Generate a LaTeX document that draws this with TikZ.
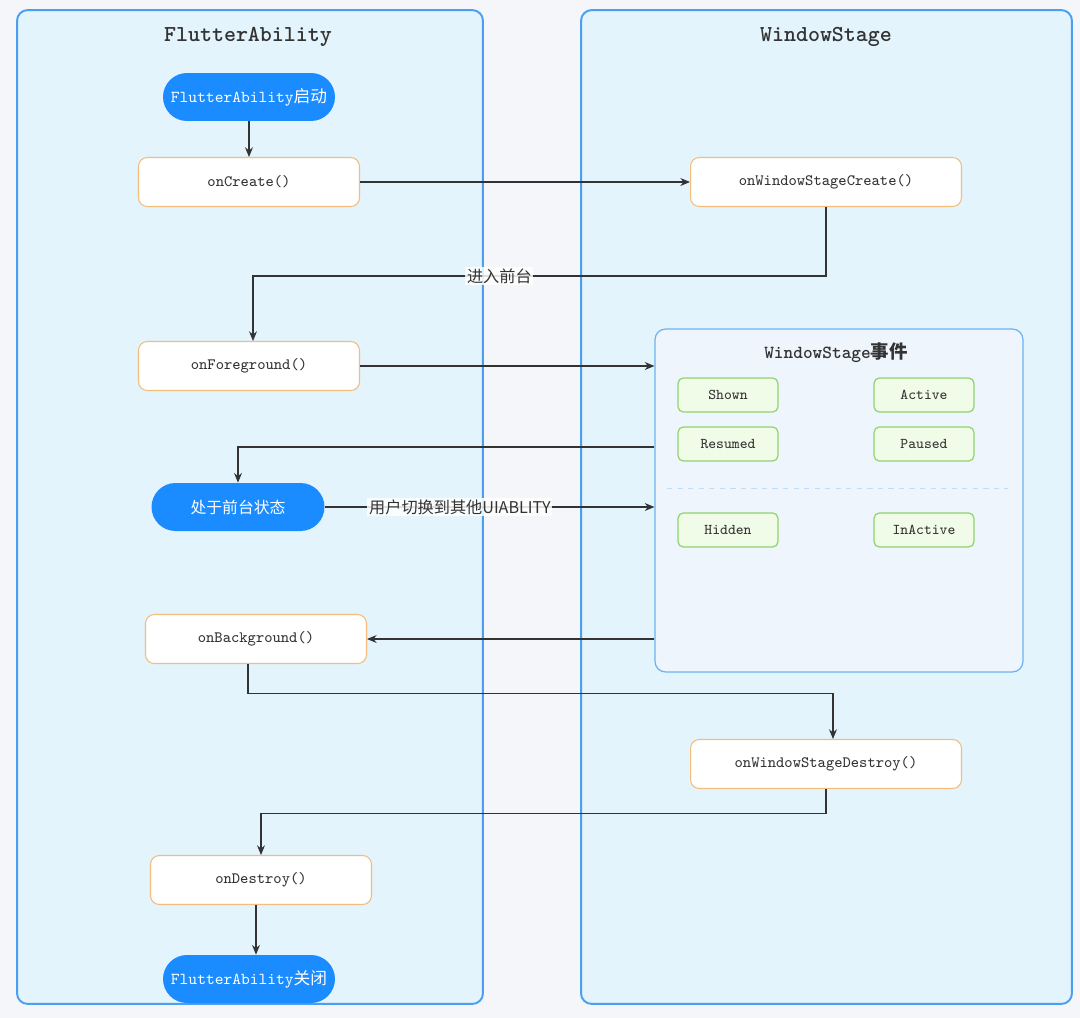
\documentclass[tikz,border=0pt]{standalone}
\usepackage{fontspec}
\newfontfamily\cjk{Noto Sans CJK SC}
\usetikzlibrary{arrows.meta,positioning}
\definecolor{pagebg}{HTML}{F4F6FA}
\definecolor{lanefill}{HTML}{E3F4FD}
\definecolor{laneline}{HTML}{4A9FF2}
\definecolor{pillblue}{HTML}{1A8CFF}
\definecolor{procline}{HTML}{F3BE7C}
\definecolor{evfill}{HTML}{EEF5FC}
\definecolor{evline}{HTML}{6CB2F2}
\definecolor{greenfill}{HTML}{F0FBE8}
\definecolor{greenline}{HTML}{8FD46F}
\definecolor{txt}{HTML}{333333}
\tikzset {
  >={Stealth[length=5.5pt,width=4.5pt]},
  every node/.style={font=\fontsize{9}{11}\selectfont\ttfamily, text=txt},
}

\begin{document}
\begin{tikzpicture}[x=0.02cm,y=-0.02cm,
    lane/.style={draw=laneline, line width=1.1pt, fill=lanefill, rounded corners=6pt},
    lanetitle/.style={font=\fontsize{13}{15}\selectfont\ttfamily\bfseries},
    proc/.style={draw=procline, fill=white, rounded corners=5pt, minimum width=4.42cm, minimum height=0.98cm, line width=0.6pt},
    pill/.style={fill=pillblue, text=white, rounded corners=0.48cm, minimum width=3.44cm, minimum height=0.96cm, font=\fontsize{9.5}{11}\selectfont\ttfamily},
    evbox/.style={draw=evline, fill=evfill, rounded corners=6pt, line width=0.7pt},
    evt/.style={draw=greenline, fill=greenfill, rounded corners=3pt, minimum width=2cm, minimum height=0.68cm, line width=0.7pt, font=\fontsize{8.5}{10}\selectfont\ttfamily},
    flow/.style={->, draw=txt, line width=0.6pt},
    lbl/.style={fill=white, fill opacity=0.85, text opacity=1, inner sep=1pt, font=\fontsize{9.2}{11}\selectfont\cjk},
  ]
  \fill[pagebg] (0,0) rectangle (1080,1018);
  \useasboundingbox (0,0) rectangle (1080,1018);

  % swim lanes
  \node[lane, minimum width=9.32cm, minimum height=19.88cm] (flane) at (250,507) {};
  \node[lane, minimum width=9.82cm, minimum height=19.88cm] (wlane) at (826.5,507) {};
  \node[lanetitle] (ftitle) at (248,37) {FlutterAbility};
  \node[lanetitle] (wtitle) at (826,37) {WindowStage};

  % events box
  \node[evbox, minimum width=7.36cm, minimum height=6.86cm] (events) at (839,500.5) {};
  \node[font=\fontsize{10.5}{12}\selectfont\ttfamily\bfseries] (evtitle) at (836,353) {WindowStage{\cjk 事件}};
  \node[evt] (shown) at (728,395) {Shown};
  \node[evt] (active) at (924,395) {Active};
  \node[evt] (resumed) at (728,444) {Resumed};
  \node[evt] (paused) at (924,444) {Paused};
  \draw[dashed, draw=evline!45, line width=0.5pt] (667,488) -- (1008,488);
  \node[evt] (hidden) at (728,530) {Hidden};
  \node[evt] (inactive) at (924,530) {InActive};

  % FlutterAbility side
  \node[pill] (start) at (249,97) {FlutterAbility{\cjk 启动}};
  \node[proc] (oncreate) at (249,182) {onCreate()};
  \node[proc] (onfg) at (249,366) {onForeground()};
  \node[pill, minimum width=3.46cm, font=\fontsize{9}{11}\selectfont\cjk] (fgstate) at (238,507) {处于前台状态};
  \node[proc] (onbg) at (256,639) {onBackground()};
  \node[proc] (ondes) at (261,880) {onDestroy()};
  \node[pill] (stop) at (249,979) {FlutterAbility{\cjk 关闭}};

  % WindowStage side
  \node[proc, minimum width=5.42cm] (wscreate) at (826,182) {onWindowStageCreate()};
  \node[proc, minimum width=5.42cm] (wsdestroy) at (826,764) {onWindowStageDestroy()};

  \coordinate (evout) at (events.west |- 0,447);

  % connectors
  \draw[flow] (start) -- (oncreate);
  \draw[flow] (oncreate) -- (wscreate);
  \draw[flow] (wscreate.south) -- ++(0,69) -| node[lbl, pos=0.285] {进入前台} ([xshift=0.08cm]onfg.north);
  \draw[flow] (onfg.east) -- (onfg.east -| events.west);
  \draw[flow] (evout) -| (fgstate.north);
  \draw[flow] (fgstate.east) -- node[lbl, pos=0.41] {用户切换到其他UIABLITY} (fgstate.east -| events.west);
  \draw[flow] (events.west |- onbg.east) -- (onbg.east);
  \draw[flow] ([xshift=-0.16cm]onbg.south) -- ++(0,29) -| ([xshift=0.14cm]wsdestroy.north);
  \draw[flow] (wsdestroy.south) -- ++(0,24) -| (ondes.north);
  \draw[flow] ([xshift=-0.1cm]ondes.south) -- ([xshift=-0.1cm]ondes.south |- stop.north);
\end{tikzpicture}
\end{document}
